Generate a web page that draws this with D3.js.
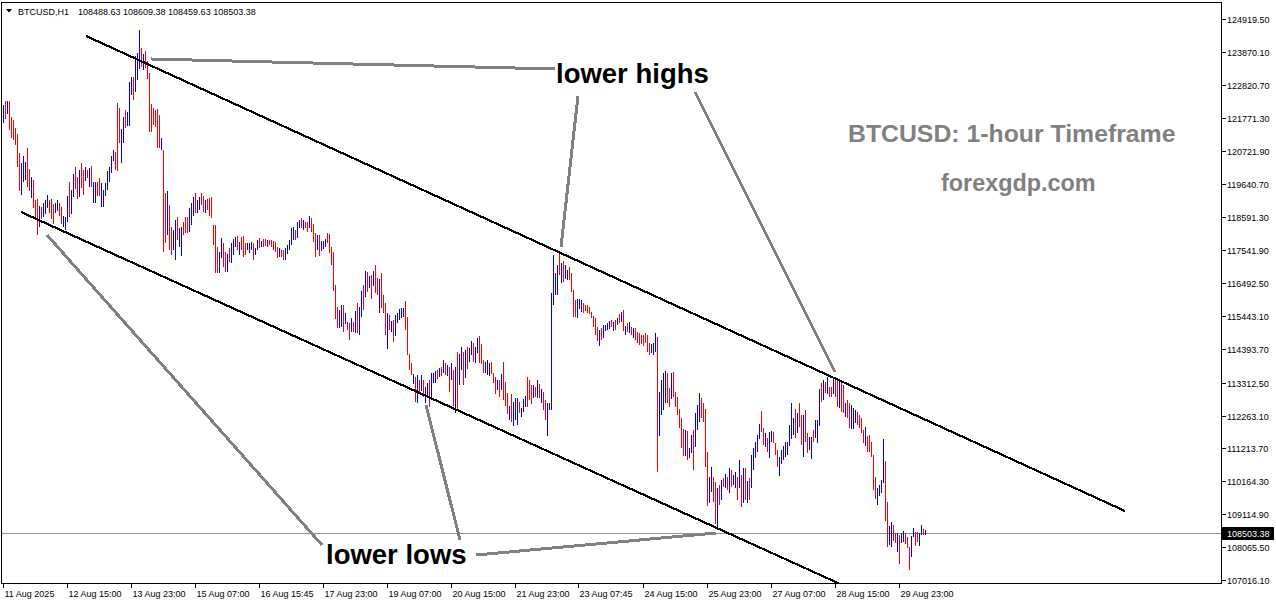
<!DOCTYPE html>
<html><head><meta charset="utf-8">
<script src="https://cdn.jsdelivr.net/npm/d3@7"></script>
<style>html,body{margin:0;padding:0;background:#fff;overflow:hidden}svg{display:block}</style>
</head><body><svg id="c" width="1276" height="604"></svg>
<script>
// ---- DATA ----
const highs = [
122175,122303,122303,122303,121793,121696,121441,121249,120643,120324,
120548,120356,120803,120133,119878,119782,119143,119176,118952,118920,
119047,119143,119303,119143,119176,119015,119047,119143,119047,118920,
118633,118601,119271,119718,119463,119973,120197,119878,120101,120324,
120101,120197,120101,120165,120229,119718,119718,119718,119846,119686,
119463,119686,120069,120197,120548,120739,120675,122239,122080,121409,
121793,122016,121952,122909,123069,123069,123739,123834,124569,123994,
123802,123898,123579,123196,122207,122080,122016,122048,121856,121122,
120739,119367,119431,118984,118282,118186,118505,118601,118250,118282,
118441,118601,118601,118888,119047,119240,119367,119143,119240,119367,
119271,119143,119176,119208,119240,118345,118345,117644,117484,117931,
117771,117484,117420,117612,117771,117899,117963,117995,117803,117963,
117995,117771,117771,117771,117803,117771,117612,117867,117931,117835,
117899,117899,117867,117867,117867,117835,117803,117644,117612,117548,
117548,117612,117708,117867,118250,118282,118186,118441,118505,118569,
118505,118441,118441,118633,118569,118377,118090,118026,118026,117835,
117835,117899,118090,118058,117644,117484,116431,115729,115633,115793,
115793,115537,115250,115218,115378,115250,115601,115856,115729,116239,
116431,116878,116846,116718,116750,116878,117069,116654,116622,116814,
116112,115856,115537,115473,115282,115314,115473,115537,115665,115697,
115697,115920,115410,114228,113941,113590,113495,113558,113399,113558,
113399,113176,113303,113399,113622,113622,113686,113718,113782,113814,
114037,113941,113877,113814,113941,113718,113814,114292,114228,114452,
114292,114356,114452,114420,114644,114580,114452,114739,114803,114548,
114037,113973,114037,113941,113973,113622,113495,113399,113399,113590,
113973,113335,112984,112570,112952,112697,112825,112825,112697,112506,
112793,112889,113495,113399,113239,113239,113176,113399,113271,113112,
113016,112761,112665,112665,116175,117388,116814,117069,117452,117133,
117197,117069,116910,117006,116814,116271,115952,115984,115984,115952,
115856,115793,115793,115729,115569,115442,115378,115090,114995,115058,
115154,115154,115218,115282,115314,115250,115314,115378,115505,115569,
115633,115122,115218,115250,115090,115058,115058,114931,114899,114835,
114835,114899,114835,114580,114548,114580,114899,114771,113016,113399,
113622,113686,113622,113144,113622,113654,113016,112857,112474,112187,
111835,111803,111771,111229,111644,111803,112346,112601,112984,112825,
112665,112474,111101,110304,110623,110304,110144,109952,110048,110208,
110272,110400,110304,110591,110527,110368,110463,110304,110846,110368,
110591,110591,110176,110272,111006,111229,111420,111644,111995,112410,
111867,111707,111548,111740,111771,111740,111388,111165,110942,111165,
111293,111420,111420,111963,112665,112187,112474,112346,112665,112282,
112282,112442,111707,111580,111580,111803,112123,112123,113112,113303,
113399,113335,113495,113176,113176,113463,113495,113463,113335,113399,
113239,112665,112761,112665,112601,112506,112442,112378,112282,112187,
111803,111899,111612,111644,111420,111006,110304,109952,110048,110208,
111516,110814,109506,108740,108867,108771,108516,108516,108452,108516,
108580,108516,108389,108069,108420,108676,108548,108548,108516,108771,
108644,108609.38];

const lows = [
121600,121729,121888,121377,121122,121058,120898,120197,119431,119303,
119718,119782,119559,119431,119208,118888,118505,118026,118282,118537,
118601,118696,118888,118728,118537,118377,118728,118792,118633,118377,
118282,118186,118441,118601,118696,119240,119495,119176,119240,119527,
119303,119750,119846,119559,119559,119047,119047,119271,119271,118920,
118920,119271,119463,119718,120005,120388,120101,120069,120962,120324,
120962,121441,121505,121505,122494,122335,122590,122973,123324,123388,
123292,123356,123005,121313,121313,121537,121473,120803,120803,120739,
117484,117771,118026,117548,117388,117548,117229,117867,117644,117357,
118026,118090,118090,118122,118345,118633,118728,118728,118824,118984,
118760,118728,118824,118633,118569,117708,116814,116814,116814,117293,
117006,116846,116846,117165,117133,117388,117644,117548,117388,117548,
117325,117388,117548,117452,117548,117229,117388,117548,117612,117644,
117644,117676,117644,117708,117644,117548,117484,117293,117325,117325,
117229,117229,117420,117548,117708,117867,117867,117931,118250,118250,
118186,118250,118122,118250,118122,117803,117325,117548,117357,117516,
117580,117644,117771,117452,117069,116239,115346,115058,115058,115090,
114931,115186,114995,114676,114931,114931,114899,114899,114835,115410,
115633,116048,116207,116335,115984,116399,116175,116112,115537,115697,
115537,114835,114388,114995,114931,114612,114803,115218,115314,115378,
115410,114995,114196,113718,113558,113271,112697,112665,112984,113048,
112857,112665,112857,112538,112857,113303,113303,113431,113495,113527,
113622,113558,113527,113016,113399,112570,112346,112474,113239,113718,
113239,113463,113750,113973,114196,113973,113941,114260,113941,113909,
113622,113622,113558,113527,113590,113303,112952,113080,112857,113080,
112761,112570,112314,112123,112059,111931,112123,111963,112346,112218,
112378,112538,112538,112761,112633,112825,112857,112825,112825,112665,
112442,112123,111612,112442,112442,115793,116112,116112,116750,116495,
116527,116622,116590,116590,116207,115410,115410,115378,115665,115569,
115537,115601,115537,115505,115378,115090,114835,114644,114484,114676,
114739,114963,114995,115026,115090,114963,114995,115154,115218,115250,
114963,114835,114931,114899,114835,114739,114676,114580,114516,114548,
114484,114580,114292,114196,114260,114196,114292,110463,111612,112282,
112442,112665,112665,112538,112793,112857,112538,112282,111867,111229,
110974,110974,110846,110910,111069,110527,111261,111803,112059,112187,
112059,110623,109378,109474,109825,109506,108803,108644,109410,109570,
109985,109952,109889,109793,109985,110048,109952,109570,109952,109346,
109474,109570,109474,109570,109952,110527,110910,111101,111516,111740,
111325,111261,111101,110910,111420,111388,111006,110623,110336,110718,
110846,110942,111006,111293,111516,111644,111548,111707,111899,111325,
110942,111420,111069,111165,110878,111420,111548,111388,111931,112697,
112761,112984,112952,112857,112857,112952,112857,112538,112506,112378,
112346,112218,112187,111867,111835,111835,112027,111963,111867,111707,
111388,111293,111101,111101,110942,109889,109602,109410,109698,109793,
110112,108899,108069,108133,108069,108261,108197,107910,107527,108197,
108229,108165,108037,107336,107751,108389,108101,108229,108101,108452,
108452,108459.63];

// 1 = bullish bar (blue), 0 = bearish bar (red)
const bullish = [
1,0,1,0,0,0,0,0,0,1, 1,1,0,0,1,0,0,0,1,0, 1,1,1,0,0,0,1,1,0,0, 1,1,1,0,1,1,0,0,1,0,
0,1,0,1,0,1,1,0,0,1, 1,1,1,1,1,1,0,0,0,1, 1,0,1,1,1,0,1,1,1,0, 1,0,0,0,0,0,0,0,0,1,
0,0,1,0,0,1,1,0,1,1, 0,0,0,1,1,1,0,1,1,0, 0,1,0,0,0,0,0,0,1,1, 0,0,1,0,1,1,1,0,1,0,
0,0,1,1,1,0,1,1,0,1, 0,0,1,0,0,0,0,0,1,0, 0,1,1,1,1,1,0,1,1,0, 1,0,0,1,0,0,0,1,0,1,
1,1,0,0,0,0,0,0,1,1, 0,1,0,0,1,0,1,0,1,1, 0,1,0,1,0,1,0,0,1,0, 0,0,1,0,1,0,1,1,1,1,
1,0,0,0,0,1,0,1,0,1, 0,1,1,0,1,1,1,0,1,0, 1,0,1,0,1,0,1,0,1,1, 0,1,0,1,1,0,1,1,0,0,
0,1,1,1,0,0,0,1,0,1, 0,0,0,1,0,1,1,1,0,1, 1,1,0,0,0,1,0,1,0,1, 0,0,1,1,1,1,1,1,0,1,
0,1,1,0,0,0,0,1,1,1, 0,0,0,0,0,0,0,0,1,0, 1,1,1,1,0,1,0,1,0,1, 0,1,0,1,0,1,0,0,0,0,
0,0,0,0,1,1,1,0,1,1, 1,1,0,0,1,0,0,0,0,0, 0,1,0,1,1,0,1,1,1,0, 0,0,0,1,1,0,0,1,0,1,
0,1,0,1,0,1,1,0,1,0, 1,0,1,0,1,1,1,1,1,0, 0,1,0,1,1,0,0,0,1,1, 1,1,1,1,1,1,0,1,0,0,
1,0,0,1,1,0,1,1,1,0, 1,0,1,0,0,1,0,0,1,0, 0,1,0,0,1,1,1,0,0,0, 0,1,0,0,0,0,0,1,1,1,
1,0,0,1,1,0,0,1,0,1, 1,0,0,0,1,1,0,0,1,1, 0,1];

const priceTicks = [124919.50,123870.10,122820.70,121771.30,120721.90,119640.70,118591.30,
  117541.90,116492.50,115443.10,114393.70,113312.50,112263.10,111213.70,110164.30,
  109114.90,108065.50,107016.10];
const timeLabels = ["11 Aug 2025","12 Aug 15:00","13 Aug 23:00","15 Aug 07:00","16 Aug 15:45",
  "17 Aug 23:00","19 Aug 07:00","20 Aug 15:00","21 Aug 23:00","23 Aug 07:45","24 Aug 15:00",
  "25 Aug 23:00","27 Aug 07:00","28 Aug 15:00","29 Aug 23:00"];
const barsPerTimeLabel = 32;
const symbolTitle = "BTCUSD,H1";
const lastOHLC = [108488.63, 108609.38, 108459.63, 108503.38];
const lastPrice = 108503.38;

// channel lines and annotation pointers: [barIndex, price]
const upperChannel = [[41.25, 124378], [560.75, 109218]];
const lowerChannel = [[8.75, 118760], [425, 106695]];
const lowerHighsPointers = [
  [[73.75, 123643], [275.75, 123324]],
  [[287.25, 122463], [278.75, 117644]],
  [[345.75, 122590], [415.75, 113654]]];
const lowerLowsPointers = [
  [[21.75, 118026], [159.25, 108133]],
  [[211.25, 112601], [228.25, 108293]],
  [[236.25, 107814], [356.25, 108516]]];
const labels = [
  {text: "lower highs", at: [276.25, 122877], size: 27.5, color: "#000"},
  {text: "lower lows", at: [161.25, 107527], size: 27.5, color: "#000"},
  {text: "BTCUSD: 1-hour Timeframe", at: [422.25, 120994], size: 24.8, color: "#808080"},
  {text: "forexgdp.com", at: [468.75, 119431], size: 23.4, color: "#808080"}];

// ---- LAYOUT ----
const W = 1276, H = 604;
const plot = {left: 1.5, top: 2.5, right: 1221.5, bottom: 583.5};
const svg = d3.select("#c");
svg.append("rect").attr("width", W).attr("height", H).attr("fill", "#fff");

const x = d3.scaleLinear().domain([0, 609]).range([3.5, 1221.5]);
const y = d3.scaleLinear().domain([107016.1, 124919.5]).range([580, 19]);

svg.append("clipPath").attr("id", "pc").append("rect")
  .attr("x", plot.left).attr("y", plot.top)
  .attr("width", plot.right - plot.left).attr("height", plot.bottom - plot.top);

const bars = d3.range(highs.length).map(i => ({i, h: highs[i], l: lows[i], up: bullish[i] === 1}));

// current price line
svg.append("line")
  .attr("x1", plot.left).attr("x2", plot.right)
  .attr("y1", Math.round(y(lastPrice)) + 0.5).attr("y2", Math.round(y(lastPrice)) + 0.5)
  .attr("stroke", "#8c9096").attr("stroke-width", 1).attr("shape-rendering", "crispEdges");

// bars
svg.append("g").attr("clip-path", "url(#pc)").selectAll("line").data(bars).join("line")
  .attr("x1", d => x(d.i)).attr("x2", d => x(d.i))
  .attr("y1", d => Math.round(y(d.h)))
  .attr("y2", d => Math.max(Math.round(y(d.l)), Math.round(y(d.h)) + 1))
  .attr("stroke", d => d.up ? "#0000ff" : "#ff0000")
  .attr("stroke-width", 1).attr("shape-rendering", "crispEdges");

const lineGen = d3.line().x(d => x(d[0])).y(d => y(d[1]));
const g = svg.append("g").attr("clip-path", "url(#pc)");
[upperChannel, lowerChannel].forEach(seg => {
  g.append("path").attr("d", lineGen(seg)).attr("fill", "none")
    .attr("stroke", "#000").attr("stroke-width", 2.2).attr("shape-rendering", "crispEdges");
});
lowerHighsPointers.concat(lowerLowsPointers).forEach(seg => {
  g.append("path").attr("d", lineGen(seg)).attr("fill", "none")
    .attr("stroke", "#808080").attr("stroke-width", 3).attr("shape-rendering", "crispEdges");
});

labels.forEach(l => {
  svg.append("text").attr("x", x(l.at[0])).attr("y", y(l.at[1]))
    .attr("font-family", "'Liberation Sans', Arial, sans-serif").attr("font-weight", "bold")
    .attr("font-size", l.size).attr("fill", l.color).text(l.text);
});

// frame
svg.append("path")
  .attr("d", `M${plot.left},${plot.bottom}V${plot.top}H${plot.right}V${plot.bottom}H${plot.left}`)
  .attr("fill", "none").attr("stroke", "#000").attr("stroke-width", 1).attr("shape-rendering", "crispEdges");

const axisFont = "'Liberation Sans', Arial, sans-serif";
// price axis
const pa = svg.append("g");
priceTicks.forEach(p => {
  const yy = Math.round(y(p)) + 0.5;
  pa.append("line").attr("x1", plot.right).attr("x2", plot.right + 4).attr("y1", yy).attr("y2", yy)
    .attr("stroke", "#000").attr("shape-rendering", "crispEdges");
  pa.append("text").attr("x", plot.right + 5.5).attr("y", yy + 3.5)
    .attr("font-family", axisFont).attr("font-size", 9).attr("fill", "#000").text(p.toFixed(2));
});
// current price tag
const ly = Math.round(y(lastPrice)) + 0.5;
pa.append("rect").attr("x", plot.right + 0.5).attr("y", ly - 6.5).attr("width", 52).attr("height", 13).attr("fill", "#000");
pa.append("text").attr("x", plot.right + 5.5).attr("y", ly + 3.5)
  .attr("font-family", axisFont).attr("font-size", 9).attr("fill", "#fff").text(lastPrice.toFixed(2));

// time axis
const ta = svg.append("g");
timeLabels.forEach((t, k) => {
  const xx = Math.round(x(k * barsPerTimeLabel)) - 0.5 + 0;
  ta.append("line").attr("x1", xx).attr("x2", xx).attr("y1", plot.bottom).attr("y2", plot.bottom + 4)
    .attr("stroke", "#000").attr("shape-rendering", "crispEdges");
  ta.append("text").attr("x", xx + 1).attr("y", plot.bottom + 13)
    .attr("font-family", axisFont).attr("font-size", 9).attr("fill", "#000").text(t);
});

// header
svg.append("path").attr("d", "M6,9L12,9L9,12.5Z").attr("fill", "#000");
svg.append("text").attr("x", 18).attr("y", 14.5).attr("font-family", axisFont).attr("font-size", 9)
  .attr("fill", "#000").text(symbolTitle);
svg.append("text").attr("x", 78).attr("y", 14.5).attr("font-family", axisFont).attr("font-size", 9)
  .attr("fill", "#000").text(lastOHLC.map(v => v.toFixed(2)).join(" "));
</script>
</body></html>
